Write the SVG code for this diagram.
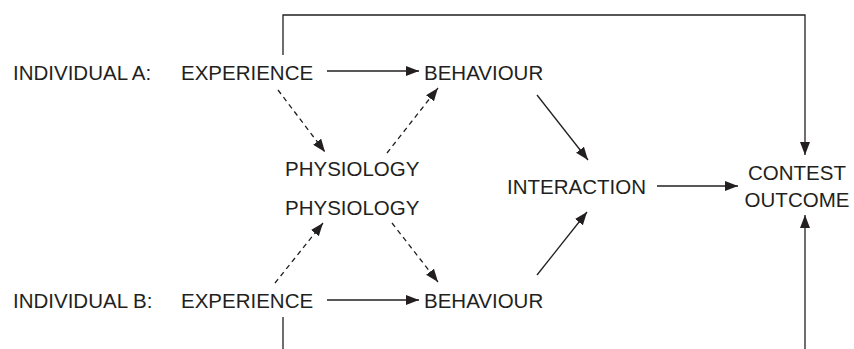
<svg xmlns="http://www.w3.org/2000/svg" width="854" height="349" viewBox="0 0 854 349">
<defs>
<marker id="ah" markerUnits="userSpaceOnUse" markerWidth="14" markerHeight="11" refX="13" refY="5" orient="auto">
<path d="M0,0 L13,5 L0,10 z" fill="#231f20"/>
</marker>
</defs>
<style>
text{font-family:"Liberation Sans",Arial,sans-serif;font-size:20.5px;fill:#231f20}
.c{fill:none;stroke:#231f20;stroke-width:1.3}
.d{stroke-dasharray:5 4}
.a{marker-end:url(#ah)}
</style>
<rect width="854" height="349" fill="#fff"/>
<g id="labelA"><text x="13" y="80">INDIVIDUAL A:</text></g>
<g id="labelB"><text x="13" y="308">INDIVIDUAL B:</text></g>
<g id="expA"><text x="181" y="80">EXPERIENCE</text></g>
<g id="behA"><text x="424" y="80">BEHAVIOUR</text></g>
<g id="physA"><text x="285" y="176">PHYSIOLOGY</text></g>
<g id="physB"><text x="285" y="215">PHYSIOLOGY</text></g>
<g id="expB"><text x="181" y="308">EXPERIENCE</text></g>
<g id="behB"><text x="424" y="308">BEHAVIOUR</text></g>
<g id="interaction"><text x="507" y="194">INTERACTION</text></g>
<g id="outcome"><text x="797" y="180" text-anchor="middle">CONTEST</text><text x="797" y="207" text-anchor="middle">OUTCOME</text></g>
<g id="connectors">
<path class="c a" d="M327,71 H419"/>
<path class="c a" d="M327,300 H419"/>
<path class="c a" d="M657,186 H738"/>
<path class="c a" d="M283,55 V15 H805 V155"/>
<path class="c a" d="M805,349 V215"/>
<path class="c" d="M283,317 V349"/>
<path class="c a" d="M537,95 L588,160"/>
<path class="c a" d="M537,275 L587,212"/>
<path class="c d a" d="M278,90 L325,152"/>
<path class="c d a" d="M387,153 L438,88"/>
<path class="c d a" d="M275,283 L323,223"/>
<path class="c d a" d="M392,223 L438,282"/>
</g>
</svg>
